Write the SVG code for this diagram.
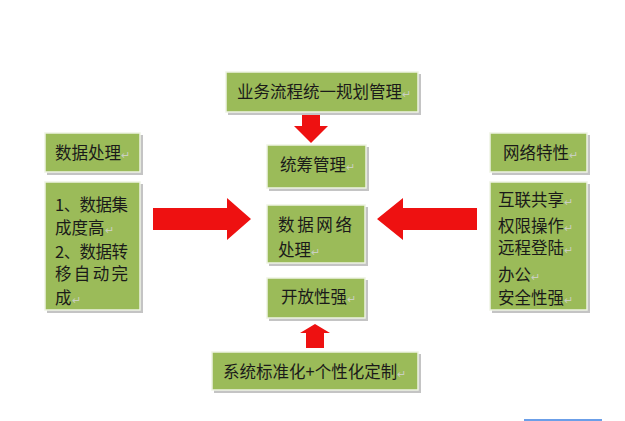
<svg xmlns="http://www.w3.org/2000/svg" width="625" height="421" viewBox="0 0 625 421">
<style>
.sh{fill:#c4c4c4}
.bx{fill:#9bbb59;stroke:#eef3e4;stroke-width:1.5}
.t{font-family:"Noto Sans CJK SC","Noto Sans",sans-serif;font-size:16.5px;fill:#1a1a1a}
.pm{fill:#c9cfc0;font-size:11px}
.ar{fill:#ee1111}
</style>
<rect width="625" height="421" fill="#ffffff"/>
<g id="connectors">
<polygon class="ar" points="302,113 320,113 320,126 328,126 311,143 294,126 302,126"/>
<polygon class="ar" points="153,208 227,208 227,198 251,219 227,240 227,230 153,230"/>
<polygon class="ar" points="477,208 403,208 403,198 377,219 403,240 403,230 477,230"/>
<polygon class="ar" points="306,348 324,348 324,333 330,333 315,324 300,333 306,333"/>
</g>
<g id="n-top">
<rect class="sh" x="228" y="74" width="193" height="41"/>
<rect class="bx" x="226" y="72" width="192" height="40"/>
<text class="t" x="237" y="98">业务流程统一规划管理<tspan class="pm">↵</tspan></text>
</g>
<g id="n-tongchou">
<rect class="sh" x="269" y="147" width="100" height="44"/>
<rect class="bx" x="267" y="145" width="99" height="43"/>
<text class="t" x="280" y="171">统筹管理<tspan class="pm">↵</tspan></text>
</g>
<g id="n-center">
<rect class="sh" x="269" y="207" width="99" height="59"/>
<rect class="bx" x="267" y="205" width="98" height="58"/>
<text class="t" x="278" y="231" textLength="74" lengthAdjust="spacing">数据网络</text>
<text class="t" x="278" y="256">处理<tspan class="pm">↵</tspan></text>
</g>
<g id="n-open">
<rect class="sh" x="269" y="280" width="99" height="41"/>
<rect class="bx" x="267" y="278" width="98" height="40"/>
<text class="t" x="281" y="303">开放性强<tspan class="pm">↵</tspan></text>
</g>
<g id="n-bottom">
<rect class="sh" x="214" y="354" width="207" height="39"/>
<rect class="bx" x="212" y="352" width="206" height="38"/>
<text class="t" x="223" y="378">系统标准化+个性化定制<tspan class="pm">↵</tspan></text>
</g>
<g id="n-left-title">
<rect class="sh" x="47" y="135" width="96" height="40"/>
<rect class="bx" x="45" y="133" width="95" height="39"/>
<text class="t" x="55" y="159">数据处理<tspan class="pm">↵</tspan></text>
</g>
<g id="n-left-body">
<rect class="sh" x="47" y="184" width="96" height="129"/>
<rect class="bx" x="45" y="182" width="95" height="128"/>
<text class="t" x="55" y="211" textLength="73" lengthAdjust="spacing">1、数据集</text>
<text class="t" x="55" y="234">成度高<tspan class="pm">↵</tspan></text>
<text class="t" x="55" y="258" textLength="73" lengthAdjust="spacing">2、数据转</text>
<text class="t" x="55" y="280" textLength="73" lengthAdjust="spacing">移自动完</text>
<text class="t" x="55" y="304">成<tspan class="pm">↵</tspan></text>
</g>
<g id="n-right-title">
<rect class="sh" x="492" y="135" width="98" height="40"/>
<rect class="bx" x="490" y="133" width="97" height="39"/>
<text class="t" x="503" y="159">网络特性<tspan class="pm">↵</tspan></text>
</g>
<g id="n-right-body">
<rect class="sh" x="492" y="184" width="98" height="129"/>
<rect class="bx" x="490" y="182" width="97" height="128"/>
<text class="t" x="498" y="206">互联共享<tspan class="pm">↵</tspan></text>
<text class="t" x="498" y="232">权限操作<tspan class="pm">↵</tspan></text>
<text class="t" x="498" y="254">远程登陆<tspan class="pm">↵</tspan></text>
<text class="t" x="498" y="281">办公<tspan class="pm">↵</tspan></text>
<text class="t" x="498" y="304">安全性强<tspan class="pm">↵</tspan></text>
</g>
<line x1="524" y1="420" x2="602" y2="420" stroke="#3a7fe0" stroke-width="1.5"/>
</svg>
